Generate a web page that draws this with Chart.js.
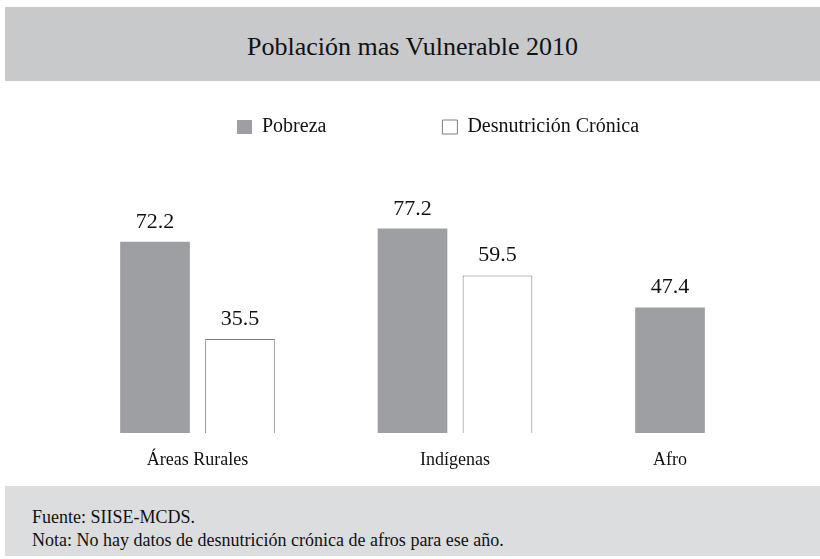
<!DOCTYPE html>
<html>
<head>
<meta charset="utf-8">
<script src="https://cdn.jsdelivr.net/npm/chart.js@4.4.1/dist/chart.umd.min.js"></script>
<style>
  html, body { margin: 0; padding: 0; background: #fff; width: 820px; height: 559px; overflow: hidden; }
  #title {
    position: absolute; left: 5px; top: 7px; width: 815px; height: 74px;
    background: #c8c9cb; color: #111; text-align: center;
    font: 26px 'Liberation Serif', 'Times New Roman', serif; line-height: 80px;
  }
  #foot {
    position: absolute; left: 5px; top: 486px; width: 788px; height: 50px;
    background: #dcdddf; color: #111; padding: 20px 0 0 27px;
    font: 18px 'Liberation Serif', 'Times New Roman', serif; line-height: 23px;
  }
  #wrap { position: absolute; left: 0; top: 0; width: 860px; height: 559px; }
</style>
</head>
<body>
<div id="title">Población mas Vulnerable 2010</div>
<div id="foot">Fuente: SIISE-MCDS.<br>Nota: No hay datos de desnutrición crónica de afros para ese año.</div>
<div id="wrap"><canvas id="myChart"></canvas></div>
<script>
  const categories = ['Áreas Rurales', 'Indígenas', 'Afro'];
  const pobreza = [72.2, 77.2, 47.4];
  const desnutricion = [35.5, 59.5, null];

  const serif = "'Liberation Serif', 'Times New Roman', serif";

  // values over the bars and category names centred under the bars that exist
  const barLabels = {
    id: 'barLabels',
    afterDatasetsDraw(chart) {
      const ctx = chart.ctx;
      ctx.save();
      ctx.fillStyle = '#111';
      ctx.textAlign = 'center';
      ctx.textBaseline = 'alphabetic';
      ctx.font = '22px ' + serif;
      chart.data.datasets.forEach((ds, i) => {
        chart.getDatasetMeta(i).data.forEach((bar, j) => {
          if (ds.data[j] == null) return;
          ctx.fillText(ds.data[j].toFixed(1), bar.x, bar.y - 14);
        });
      });
      ctx.font = '18px ' + serif;
      categories.forEach((name, j) => {
        const xs = [];
        chart.data.datasets.forEach((ds, i) => {
          if (ds.data[j] != null) xs.push(chart.getDatasetMeta(i).data[j].x);
        });
        const x = xs.reduce((a, b) => a + b, 0) / xs.length;
        ctx.fillText(name, x, chart.chartArea.bottom + 32);
      });
      ctx.restore();
    }
  };

  new Chart(document.getElementById('myChart'), {
    type: 'bar',
    data: {
      labels: categories,
      datasets: [{
        label: 'Pobreza',
        data: pobreza,
        backgroundColor: '#9e9fa3',
        borderWidth: 0
      }, {
        label: 'Desnutrición Crónica',
        data: desnutricion,
        backgroundColor: '#ffffff',
        borderColor: '#7f7f7f',
        borderWidth: 1
      }]
    },
    options: {
      responsive: true,
      maintainAspectRatio: false,
      animation: false,
      barPercentage: 0.82,
      categoryPercentage: 0.66,
      layout: { padding: { top: 1, left: 34.75, right: 18.75, bottom: 126 } },
      scales: {
        x: { display: false },
        y: {
          min: 0,
          max: 108,
          grid: { display: false },
          border: { display: false },
          ticks: { display: false },
          afterFit(scale) { scale.width = 34; }
        }
      },
      plugins: {
        legend: {
          labels: {
            color: '#111',
            font: { family: serif, size: 20 },
            boxWidth: 15,
            boxHeight: 14,
            padding: 116
          }
        },
        tooltip: { enabled: false }
      }
    },
    plugins: [barLabels]
  });
</script>
</body>
</html>
